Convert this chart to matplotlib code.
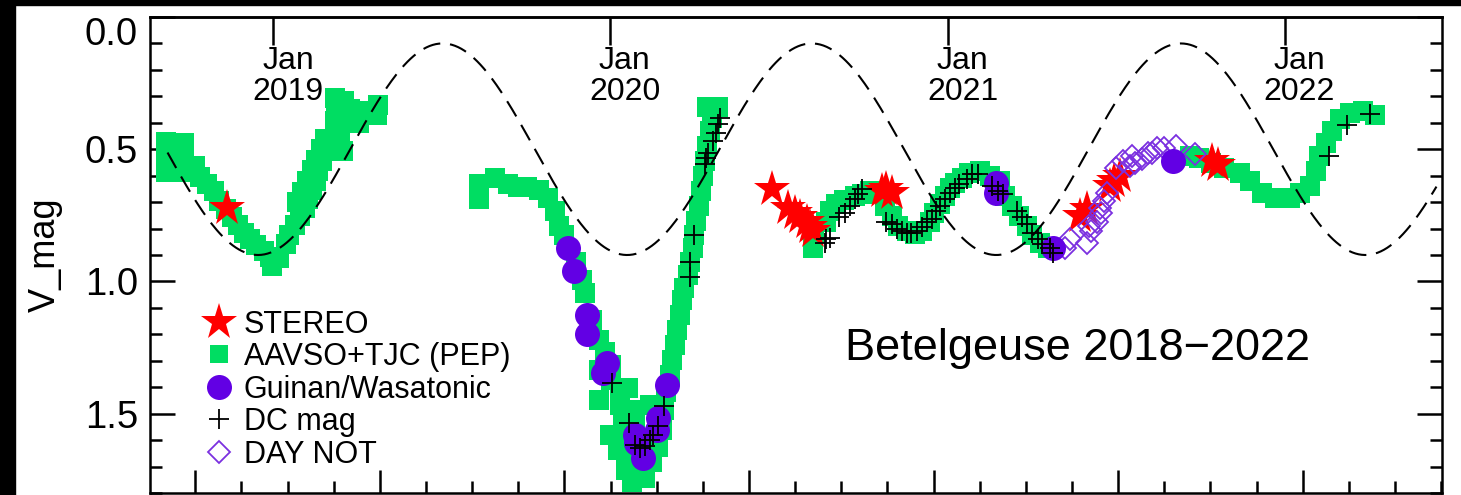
import numpy as np
import matplotlib
matplotlib.use("Agg")
import matplotlib.pyplot as plt
from matplotlib.patches import Rectangle
from matplotlib.ticker import MultipleLocator, FixedLocator, FormatStrFormatter

plt.rcParams['font.family'] = ['Liberation Sans', 'DejaVu Sans']

# time axis is JD - 2450000
# AAVSO+TJC (PEP) photometry
aavso_jd = [8368, 8368, 8368, 8388, 8388, 8390, 8400, 8405, 8413, 8420, 8426, 8433,
            8440, 8446, 8453, 8459, 8466, 8474, 8481, 8483, 8491, 8498, 8502, 8508,
            8513, 8519, 8522, 8526, 8531, 8533, 8537, 8541, 8546, 8551, 8552, 8553,
            8552, 8561, 8568, 8573, 8578, 8580, 8598, 8597, 8560, 8557,
            8510, 8516, 8521, 8526, 8531, 8536, 8541,
            8707, 8707, 8725, 8739, 8750, 8760, 8773, 8782, 8790, 8794, 8800, 8813,
            8819, 8822, 8830, 8838, 8844, 8851, 8851, 8860, 8869, 8860, 8871, 8864,
            8876, 8868, 8874, 8867, 8873, 8887, 8895, 8901, 8906, 8908, 8910, 8914,
            8917, 8920, 8922, 8925, 8928, 8930, 8934, 8936, 8939, 8941, 8943, 8946,
            8948, 8950, 8952, 8955, 8958, 8960, 8955, 8966,
            8838, 8838, 8849, 8858, 8884, 8893,
            9069, 9071, 9083, 9088, 9094, 9103, 9115, 9122, 9131, 9142, 9147, 9155,
            9161, 9171, 9180, 9187, 9196, 9201, 9207, 9212, 9218, 9223, 9231, 9239,
            9250, 9261, 9272, 9277, 9285, 9293, 9301, 9307, 9315, 9324,
            9478, 9488, 9501, 9515, 9532, 9543, 9556, 9570, 9586, 9597, 9608, 9614,
            9618, 9625, 9632, 9640, 9651, 9665, 9678]
aavso_v = [0.472, 0.528, 0.585, 0.475, 0.532, 0.585, 0.562, 0.604, 0.630, 0.657, 0.694, 0.725,
           0.758, 0.785, 0.815, 0.838, 0.864, 0.883, 0.909, 0.943, 0.913, 0.860, 0.823, 0.785,
           0.751, 0.721, 0.687, 0.653, 0.619, 0.581, 0.543, 0.506, 0.475, 0.438, 0.392, 0.347,
           0.306, 0.317, 0.347, 0.385, 0.400, 0.355, 0.332, 0.370, 0.506, 0.460,
           0.700, 0.660, 0.620, 0.580, 0.540, 0.500, 0.460,
           0.630, 0.687, 0.608, 0.630, 0.642, 0.642, 0.653, 0.683, 0.732, 0.789, 0.826, 0.928,
           0.996, 1.042, 1.147, 1.223, 1.268, 1.317, 1.374, 1.411, 1.404, 1.468, 1.487, 1.532,
           1.543, 1.600, 1.657, 1.713, 1.758, 1.743, 1.683, 1.626, 1.562, 1.487, 1.419, 1.355,
           1.298, 1.242, 1.185, 1.128, 1.072, 1.026, 0.977, 0.928, 0.875, 0.826, 0.770, 0.713,
           0.657, 0.600, 0.543, 0.487, 0.430, 0.381, 0.340, 0.340,
           1.336, 1.449, 1.581, 1.638, 1.732, 1.468,
           0.872, 0.815, 0.777, 0.732, 0.706, 0.691, 0.675, 0.668, 0.657, 0.664, 0.713, 0.751,
           0.789, 0.808, 0.819, 0.808, 0.777, 0.743, 0.706, 0.675, 0.645, 0.626, 0.608, 0.589,
           0.581, 0.600, 0.619, 0.675, 0.713, 0.751, 0.789, 0.826, 0.853, 0.875,
           0.525, 0.532, 0.551, 0.570, 0.589, 0.619, 0.664, 0.683, 0.683, 0.664, 0.638, 0.581,
           0.525, 0.475, 0.430, 0.385, 0.362, 0.355, 0.370]

# STEREO
stereo_jd = [8434, 9025, 9042, 9050, 9055, 9063, 9066, 9069, 9144, 9149, 9155,
             9359, 9366, 9391, 9396, 9402, 9502, 9508]
stereo_v = [0.721, 0.649, 0.721, 0.740, 0.758, 0.777, 0.796, 0.808, 0.657, 0.649, 0.664,
            0.751, 0.725, 0.638, 0.619, 0.600, 0.543, 0.558]

# Guinan / Wasatonic
guinan_jd = [8804, 8810, 8824, 8825, 8846, 8842, 8911, 8901, 8900, 8876, 8878, 8885,
             9268, 9268, 9329, 9459]
guinan_v = [0.875, 0.962, 1.128, 1.200, 1.309, 1.347, 1.392, 1.517, 1.562, 1.581, 1.611, 1.668,
            0.626, 0.664, 0.872, 0.543]

# DC mag
dc_jd = [8852, 8870, 8908, 8901, 8896, 8893, 8887, 8882, 8877, 8936, 8936, 8941,
         8952, 8954, 8956, 8961, 8964, 8966, 8969,
         9084, 9088, 9082, 9098, 9104, 9109, 9115, 9118, 9122, 9149, 9155, 9160,
         9166, 9171, 9176, 9182, 9187, 9193, 9198, 9203, 9207, 9212, 9218, 9223,
         9228, 9236, 9242, 9248, 9263, 9270, 9275, 9290, 9296, 9301, 9307, 9313,
         9318, 9326, 9329, 9629, 9648, 9673]
dc_v = [1.385, 1.536, 1.472, 1.547, 1.581, 1.600, 1.623, 1.630, 1.619, 0.985, 0.928, 0.826,
        0.555, 0.532, 0.513, 0.468, 0.438, 0.404, 0.381,
        0.838, 0.834, 0.853, 0.758, 0.740, 0.713, 0.687, 0.668, 0.649, 0.777, 0.781, 0.800,
        0.808, 0.815, 0.815, 0.808, 0.796, 0.777, 0.762, 0.732, 0.713, 0.687, 0.664, 0.645,
        0.630, 0.611, 0.592, 0.592, 0.638, 0.657, 0.668, 0.732, 0.758, 0.781, 0.815, 0.838,
        0.857, 0.875, 0.891, 0.525, 0.408, 0.366]

# DAY NOT
day_jd = [9342, 9348, 9366, 9371, 9377, 9380, 9385, 9388, 9398, 9405, 9415, 9418,
          9426, 9432, 9437, 9442, 9450, 9463, 9483, 9413, 9369, 9382]
day_v = [0.875, 0.838, 0.853, 0.808, 0.777, 0.721, 0.694, 0.664, 0.570, 0.543, 0.525, 0.551,
         0.536, 0.513, 0.513, 0.494, 0.494, 0.487, 0.517, 0.562, 0.789, 0.740]

# ~400 d sinusoid drawn as dashed reference
P_days = 400.0
t_faint = 8468.0
v_mean, v_amp = 0.5, 0.4
model_jd = np.linspace(8370, 9745, 800)
model_v = v_mean + v_amp * np.cos(2 * np.pi * (model_jd - t_faint) / P_days)

jan_jd = [8484.5, 8849.5, 9215.5, 9580.5]
jan_years = ['2019', '2020', '2021', '2022']
v_ticks = [0.0, 0.5, 1.0, 1.5]

green = '#00DD62'
purple = '#6200E4'
diam_col = '#7B30E0'

fig = plt.figure(figsize=(14.61, 4.95), dpi=100)
ax = fig.add_axes([150/1461, 2/495, 1292/1461, 476/495])

ax.plot(aavso_jd, aavso_v, 's', color=green, ms=14, mew=0, zorder=2)
ax.plot(stereo_jd, stereo_v, '*', color='red', ms=28, mew=0, zorder=3)
ax.plot(day_jd, day_v, 'D', mfc='none', mec=diam_col, ms=11.5, mew=1.3, zorder=4)
ax.plot(guinan_jd, guinan_v, 'o', color=purple, ms=18, mew=0, zorder=5)
ax.plot(dc_jd, dc_v, '+', color='black', ms=14, mew=1.3, zorder=6)
ax.plot(model_jd, model_v, color='black', lw=1.5, ls=(0, (8.5, 4.7)), zorder=7)

# legend proxies
h1, = ax.plot([], [], '*', color='red', ms=28, mew=0)
h2, = ax.plot([], [], 's', color=green, ms=13, mew=0)
h3, = ax.plot([], [], 'o', color=purple, ms=18, mew=0)
h4, = ax.plot([], [], '+', color='black', ms=14, mew=1.3)
h5, = ax.plot([], [], 'D', mfc='none', mec=diam_col, ms=11.5, mew=1.3)
ax.legend([h1, h2, h3, h4, h5],
          ['STEREO', 'AAVSO+TJC (PEP)', 'Guinan/Wasatonic', 'DC mag', 'DAY NOT'],
          loc='upper left', bbox_to_anchor=(0.044, 0.385), frameon=False,
          fontsize=22, handlelength=0.8, handletextpad=0.4, labelspacing=0.08,
          borderpad=0, borderaxespad=0, numpoints=1)

ax.text(9104, 1.298, 'Betelgeuse 2018\u22122022', fontsize=32.5, ha='left', va='baseline')

for jd, yr in zip(jan_jd, jan_years):
    ax.text(jd + 16, 0.166, 'Jan', fontsize=23, ha='center', va='center')
    ax.text(jd + 16, 0.283, yr, fontsize=23, ha='center', va='center')

ax.set_xlim(8351, 9751)
ax.set_ylim(1.8, 0.0)

ax.set_yticks(v_ticks)
ax.yaxis.set_minor_locator(MultipleLocator(0.1))
ax.yaxis.set_major_formatter(FormatStrFormatter('%.1f'))
ax.xaxis.set_major_locator(MultipleLocator(200))
ax.xaxis.set_minor_locator(MultipleLocator(50))
ax.tick_params(axis='y', which='both', direction='in', left=True, right=True, width=1.8,
               labelsize=27.5, pad=8.6)
ax.tick_params(axis='y', which='major', length=18)
ax.tick_params(axis='y', which='minor', length=8.6)
ax.tick_params(axis='x', which='both', direction='in', bottom=True, top=False,
               labelbottom=False, width=1.8)
ax.tick_params(axis='x', which='major', length=16.5)
ax.tick_params(axis='x', which='minor', length=8.6)

top = ax.secondary_xaxis('top')
top.xaxis.set_major_locator(FixedLocator(jan_jd))
top.tick_params(direction='in', length=20, width=1.8, labeltop=False)
top.spines['top'].set_linewidth(1.8)

for s in ax.spines.values():
    s.set_linewidth(1.8)

ax.set_ylabel('V_mag', fontsize=26)
ax.yaxis.set_label_coords(-(150 - 63) / 1292, 0.5)

# the 0.0 label hangs below the top edge
ax.yaxis.get_major_ticks()[0].label1.set_verticalalignment('top')

# black frame strips of the original screenshot
fig.add_artist(Rectangle((0, 1 - 5/495), 1, 5/495, transform=fig.transFigure,
                         color='black', zorder=10))
fig.add_artist(Rectangle((0, 0), 15/1461, 1, transform=fig.transFigure,
                         color='black', zorder=10))

fig.savefig('out.png', dpi=100)
